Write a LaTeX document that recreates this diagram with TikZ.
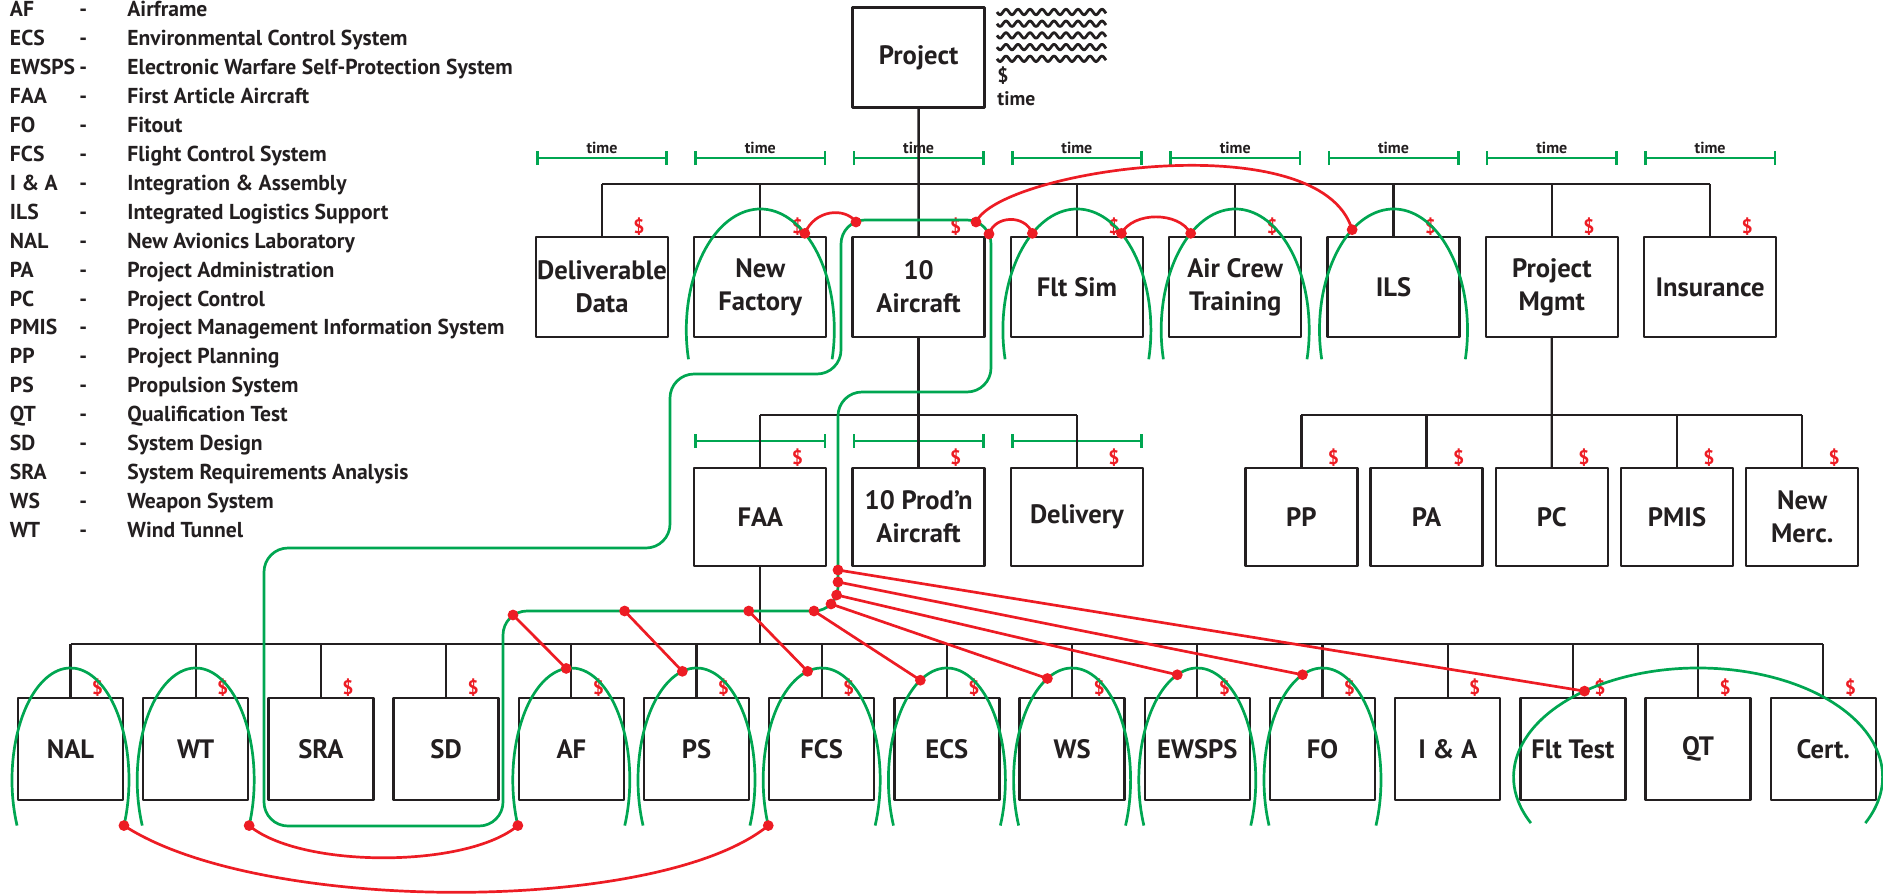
\documentclass[tikz,border=0pt]{standalone}
\usepackage{fontspec}
\setmainfont{PT Sans}
\usepackage{tikz}
\usetikzlibrary{positioning,calc,arrows.meta}
\definecolor{wbsgreen}{RGB}{0,166,81}
\definecolor{wbsred}{RGB}{237,28,36}
\definecolor{wbsink}{RGB}{35,31,32}
\tikzset{wbs/.style={x=0.5pt,y=-0.5pt,line join=round},
    box/.style={draw=wbsink,line width=1.15pt,minimum width=66pt,minimum height=50pt,inner sep=0pt,outer sep=0pt,
        align=center,text=wbsink,font=\fontsize{13.3}{16.5}\selectfont\bfseries},
    subbox/.style={box,minimum height=49pt},
    pmbox/.style={box,minimum width=56pt,minimum height=49pt},
    leafbox/.style={box,minimum width=52.5pt,minimum height=51pt},
    cost/.style={text=wbsred,inner sep=0.5pt,font=\fontsize{9.8}{9.8}\selectfont\bfseries},
    topcost/.style={label={[cost,xshift=18.5pt]above:\$}},
    pmcost/.style={label={[cost,xshift=16pt]above:\$}},
    leafcost/.style={label={[cost,xshift=13.5pt]above:\$}},
    tree/.style={draw=wbsink,line width=1.15pt},
    timebar/.style={draw=wbsgreen,line width=1.3pt,arrows={Bar[width=7pt]-Bar[width=7pt]}},
    timelbl/.style={anchor=base,inner sep=0pt,text=wbsink,font=\fontsize{8}{8}\selectfont\bfseries},
    legend/.style={anchor=base west,inner sep=0pt,text=wbsink,font=\fontsize{10.8}{10.8}\selectfont\bfseries},
    wavestroke/.style={draw=wbsink,line width=1.4pt},
    loopline/.style={draw=wbsgreen,line width=1.35pt},
    flow/.style={draw=wbsgreen,line width=1.35pt,rounded corners=12pt},
    link/.style={draw=wbsred,line width=1.35pt}}
\newcommand{\toploop}[1]{\draw[loopline] ($(#1)+(0,43)+(166:74 and 121)$) arc[start angle=166,end angle=374,x radius=74,y radius=121];}
\newcommand{\leafloop}[1]{\draw[loopline] ($(#1)+(0,31)+(156:58.5 and 112)$) arc[start angle=156,end angle=384,x radius=58.5,y radius=112];}
\begin{document}
\begin{tikzpicture}[wbs]
\useasboundingbox (0,0) rectangle (1883,894);

\foreach \ab/\df [count=\i] in {AF/Airframe, ECS/Environmental Control System,
    EWSPS/Electronic Warfare Self-Protection System, FAA/First Article Aircraft, FO/Fitout,
    FCS/Flight Control System, I \& A/Integration \& Assembly, ILS/Integrated Logistics Support,
    NAL/New Avionics Laboratory, PA/Project Administration, PC/Project Control,
    PMIS/Project Management Information System, PP/Project Planning, PS/Propulsion System,
    QT/Qualification Test, SD/System Design, SRA/System Requirements Analysis,
    WS/Weapon System, WT/Wind Tunnel}{
    \node[legend] (ab\i) at (9.6,{17+28.9*(\i-1)}) {\ab};
    \node[legend] (da\i) at (79,{17+28.9*(\i-1)}) {-};
    \node[legend] (df\i) at (127,{17+28.9*(\i-1)}) {\df};
}

\node[box] (proj) at (918.6,57.5) {Project};
\foreach \k in {0,...,4}
    \draw[wavestroke] plot[domain=0:109,samples=140] ({997+\x},{12+11.7*\k+2.7*sin(30*\x)});
\node[anchor=base west,inner sep=0pt,text=wbsink,font=\fontsize{9.8}{9.8}\selectfont\bfseries] (lcost) at (997,82) {\$};
\node[anchor=base west,inner sep=0pt,text=wbsink,font=\fontsize{9.8}{9.8}\selectfont\bfseries] (ltime) at (997,105) {time};

\node[box,topcost] (dd) at (602,287) {Deliverable\\Data};
\node[box,topcost,right=13.15pt of dd] (nf) {New\\Factory};
\node[box,topcost,right=13.15pt of nf] (ac) {10\\Aircraft};
\node[box,topcost,right=13.15pt of ac] (fs) {Flt Sim};
\node[box,topcost,right=13.15pt of fs] (crew) {Air Crew\\Training};
\node[box,topcost,right=13.15pt of crew] (ils) {ILS};
\node[box,topcost,right=13.15pt of ils] (pm) {Project\\Mgmt};
\node[box,topcost,right=13.15pt of pm] (ins) {Insurance};

\node[subbox,topcost] (faa) at (760.3,517) {FAA};
\node[subbox,topcost,right=13.15pt of faa] (prod) {10 Prod’n\\Aircraft};
\node[subbox,topcost,right=13.15pt of prod] (dlv) {Delivery};

\node[pmbox,pmcost] (pp) at (1301.4,517) {PP};
\node[pmbox,pmcost,right=6.6pt of pp] (pa) {PA};
\node[pmbox,pmcost,right=6.6pt of pa] (pc) {PC};
\node[pmbox,pmcost,right=6.6pt of pc] (pmis) {PMIS};
\node[pmbox,pmcost,right=6.6pt of pmis] (nmerc) {New\\Merc.};

\node[leafbox,leafcost] (nal) at (70.5,749) {NAL};
\node[leafbox,leafcost,right=10.1pt of nal] (wt) {WT};
\node[leafbox,leafcost,right=10.1pt of wt] (sra) {SRA};
\node[leafbox,leafcost,right=10.1pt of sra] (sd) {SD};
\node[leafbox,leafcost,right=10.1pt of sd] (af) {AF};
\node[leafbox,leafcost,right=10.1pt of af] (ps) {PS};
\node[leafbox,leafcost,right=10.1pt of ps] (fcs) {FCS};
\node[leafbox,leafcost,right=10.1pt of fcs] (ecs) {ECS};
\node[leafbox,leafcost,right=10.1pt of ecs] (ws) {WS};
\node[leafbox,leafcost,right=10.1pt of ws] (ewsps) {EWSPS};
\node[leafbox,leafcost,right=10.1pt of ewsps] (fo) {FO};
\node[leafbox,leafcost,right=10.1pt of fo] (ia) {I \& A};
\node[leafbox,leafcost,right=10.1pt of ia] (fltt) {Flt Test};
\node[leafbox,leafcost,right=10.1pt of fltt] (qt) {QT};
\node[leafbox,leafcost,right=10.1pt of qt] (cert) {Cert.};

\coordinate (tb1) at (0,158);
\foreach \n in {dd,nf,ac,fs,crew,ils,pm,ins}{
    \draw[timebar] (\n.west |- tb1) -- (\n.east |- tb1);
    \node[timelbl] (t\n) at ($(\n.north |- tb1)+(0,-5)$) {time};
}
\coordinate (tb2) at (0,441);
\foreach \n in {faa,prod,dlv}
    \draw[timebar] (\n.west |- tb2) -- (\n.east |- tb2);

\coordinate (bus1) at (0,184);
\coordinate (bus2) at (0,415);
\coordinate (bus3) at (0,644);
\draw[tree] (dd.north |- bus1) -- (ins.north |- bus1);
\foreach \n in {dd,nf,fs,crew,ils,pm,ins}
    \draw[tree] (\n.north) -- (\n.north |- bus1);
\draw[tree] (proj) -- (ac);
\draw[tree] (faa.north |- bus2) -- (dlv.north |- bus2);
\foreach \n in {faa,dlv}
    \draw[tree] (\n.north) -- (\n.north |- bus2);
\draw[tree] (ac) -- (prod);
\draw[tree] (pp.north |- bus2) -- (nmerc.north |- bus2);
\foreach \n in {pp,pa,pmis,nmerc}
    \draw[tree] (\n.north) -- (\n.north |- bus2);
\draw[tree] (pm) -- (pc);
\draw[tree] (nal.north |- bus3) -- (cert.north |- bus3);
\foreach \n in {nal,wt,sra,sd,af,ps,fcs,ecs,ws,ewsps,fo,ia,fltt,qt,cert}
    \draw[tree] (\n.north) -- (\n.north |- bus3);
\draw[tree] (faa) -- (faa.south |- bus3);

\toploop{nf} \toploop{fs} \toploop{crew} \toploop{ils}
\foreach \n in {nal,wt,af,ps,fcs,ecs,ws,ewsps,fo}{\leafloop{\n}}
\draw[loopline] ($(qt)+(0,28)+(155:184.5 and 109)$) arc[start angle=155,end angle=385,x radius=184.5,y radius=109];
\draw[flow] (600,611) -- (838,611) -- (838,392) -- (991,392) -- (991,220) -- (841,220) -- (841,374) -- (670,374)
    -- (670,548) -- (264,548) -- (264,826) -- (503,826) -- (503,611) -- cycle;

\coordinate (ga) at (856,222);
\coordinate (gb) at (976,222);
\coordinate (gc) at (989,234);
\coordinate (g1) at (513,615);
\coordinate (g2) at (624.6,611);
\coordinate (g3) at (748.7,611);
\coordinate (g4) at (814,611);
\coordinate (g5) at (831,604);
\coordinate (g6) at (836.6,595);
\coordinate (g7) at (838,582);
\coordinate (g8) at (838,570);
\coordinate (nfR) at ($(nf)+(0,43)+(307:74 and 121)$);
\coordinate (fsL) at ($(fs)+(0,43)+(233:74 and 121)$);
\coordinate (fsR) at ($(fs)+(0,43)+(307:74 and 121)$);
\coordinate (crewL) at ($(crew)+(0,43)+(233:74 and 121)$);
\coordinate (ilsL) at ($(ils)+(0,43)+(236:74 and 121)$);
\coordinate (nalE) at ($(nal)+(0,31)+(24:58.5 and 112)$);
\coordinate (wtE) at ($(wt)+(0,31)+(24:58.5 and 112)$);
\coordinate (afW) at ($(af)+(0,31)+(156:58.5 and 112)$);
\coordinate (fcsW) at ($(fcs)+(0,31)+(156:58.5 and 112)$);
\coordinate (afT) at ($(af)+(0,31)+(265:58.5 and 112)$);
\coordinate (psT) at ($(ps)+(0,31)+(256:58.5 and 112)$);
\coordinate (fcsT) at ($(fcs)+(0,31)+(256:58.5 and 112)$);
\coordinate (ecsT) at ($(ecs)+(0,31)+(243:58.5 and 112)$);
\coordinate (wsT) at ($(ws)+(0,31)+(245:58.5 and 112)$);
\coordinate (ewT) at ($(ewsps)+(0,31)+(250:58.5 and 112)$);
\coordinate (foT) at ($(fo)+(0,31)+(250:58.5 and 112)$);
\coordinate (ftT) at ($(qt)+(0,28)+(232:184.5 and 109)$);

\draw[link] (nfR) .. controls +(10,-24) and +(-11,-15) .. (ga);
\draw[link] (gb) .. controls +(24,-52) and +(-32,-107) .. (ilsL);
\draw[link] (gc) .. controls +(6,-19) and +(-7,-19) .. (fsL);
\draw[link] (fsR) .. controls +(12,-22) and +(-12,-22) .. (crewL);
\draw[link] (nalE) .. controls +(136,89) and +(-109,89) .. (fcsW);
\draw[link] (wtE) .. controls +(51,43) and +(-51,43) .. (afW);
\foreach \a/\b in {g1/afT,g2/psT,g3/fcsT,g4/ecsT,g5/wsT,g6/ewT,g7/foT,g8/ftT}
    \draw[link] (\a) -- (\b);

\foreach \c in {ga,gb,gc,g1,g2,g3,g4,g5,g6,g7,g8,nfR,fsL,fsR,crewL,ilsL,nalE,wtE,afW,fcsW,
        afT,psT,fcsT,ecsT,wsT,ewT,foT,ftT}
    \fill[wbsred] (\c) circle[radius=2.7pt];
\end{tikzpicture}
\end{document}
